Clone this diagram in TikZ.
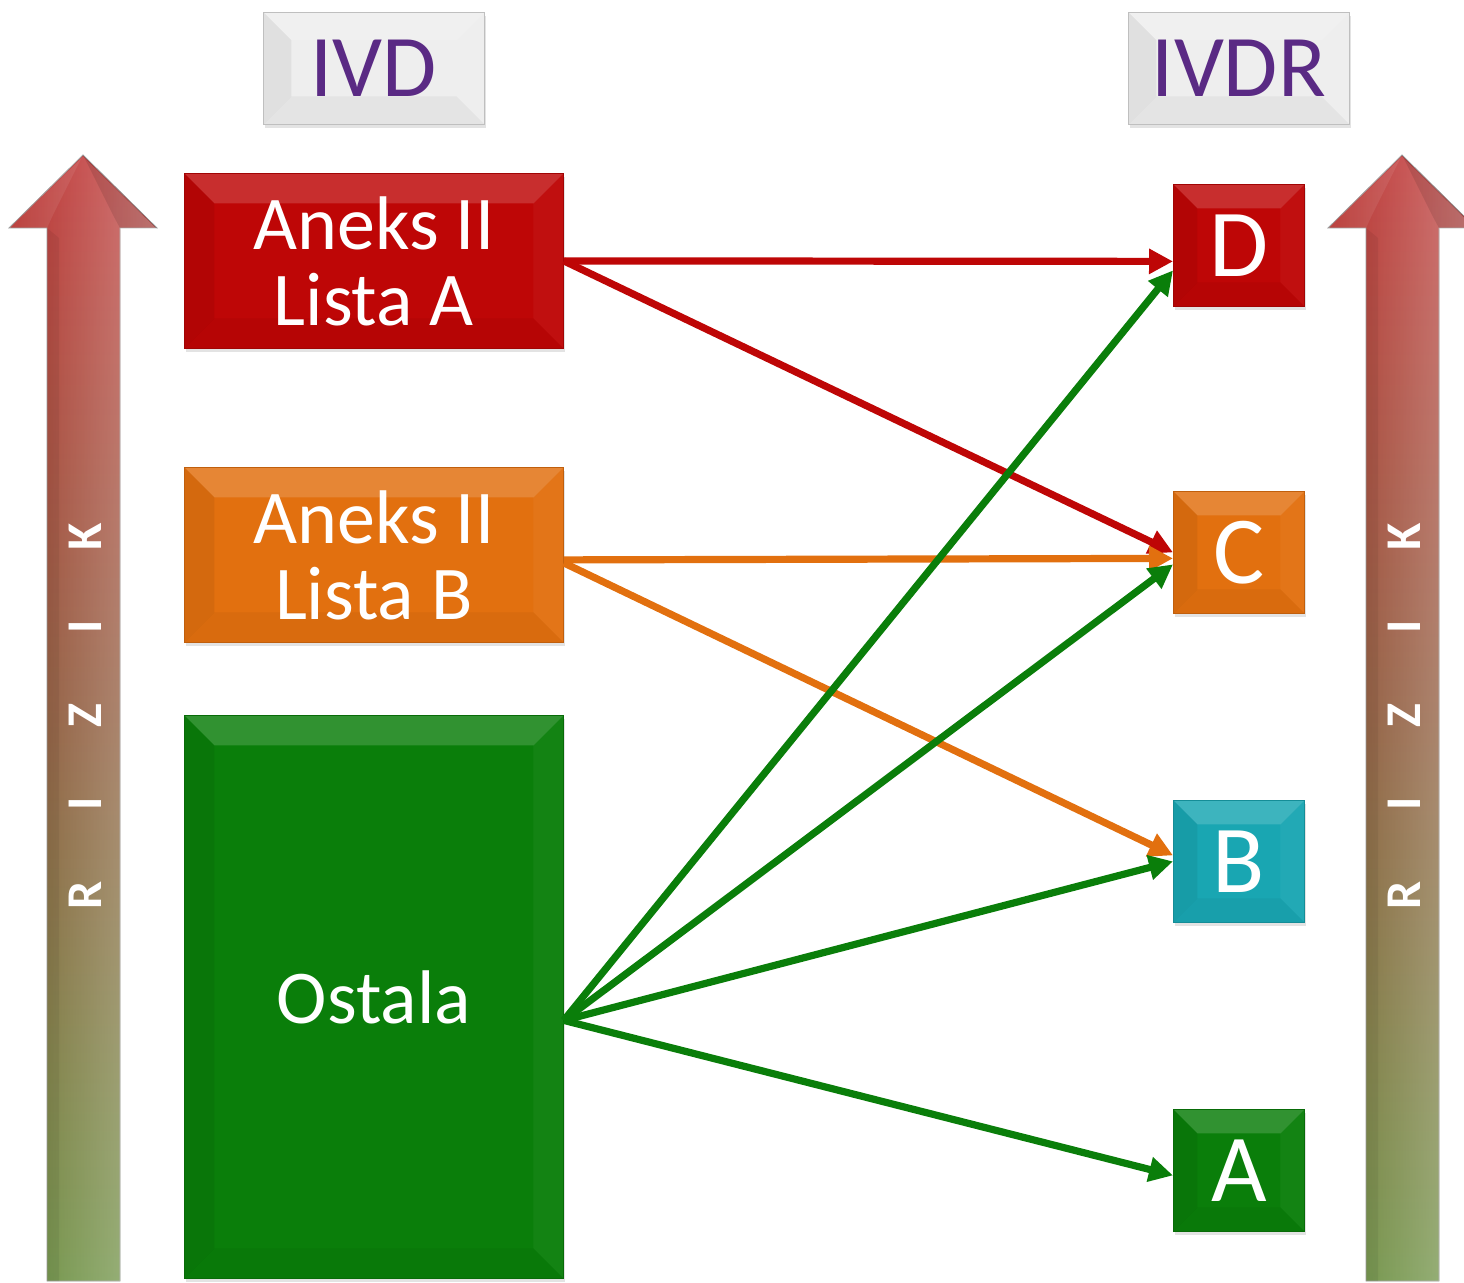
\documentclass[tikz,border=0pt]{standalone}
\usepackage{fontspec}
\setmainfont{Carlito}
\usetikzlibrary{arrows.meta,shadows,fadings}
\definecolor{cred}{HTML}{BE0606}
\definecolor{corange}{HTML}{E2700F}
\definecolor{cgreen}{HTML}{0A7E0A}
\definecolor{cteal}{HTML}{19A6B2}
\definecolor{cgrey}{HTML}{EEEEEE}
\definecolor{cpurple}{HTML}{5A2A84}
\definecolor{rtop}{HTML}{BC2E2E}
\definecolor{rmid}{HTML}{8A5434}
\definecolor{rbot}{HTML}{6A8E3E}
\tikzfading[name=fadeside, left color=transparent!100, right color=transparent!62]
\tikzset{
  bevel/.style={path picture={
    \fill[white,opacity=0.16] (path picture bounding box.north west) -- (path picture bounding box.north east)
      -- ([shift={(-#1,-#1)}]path picture bounding box.north east) -- ([shift={(#1,-#1)}]path picture bounding box.north west) -- cycle;
    \fill[black,opacity=0.06] (path picture bounding box.north west) -- (path picture bounding box.south west)
      -- ([shift={(#1,#1)}]path picture bounding box.south west) -- ([shift={(#1,-#1)}]path picture bounding box.north west) -- cycle;
    \fill[white,opacity=0.04] (path picture bounding box.north east) -- (path picture bounding box.south east)
      -- ([shift={(-#1,#1)}]path picture bounding box.south east) -- ([shift={(-#1,-#1)}]path picture bounding box.north east) -- cycle;
    \fill[black,opacity=0.04] (path picture bounding box.south west) -- (path picture bounding box.south east)
      -- ([shift={(-#1,#1)}]path picture bounding box.south east) -- ([shift={(#1,#1)}]path picture bounding box.south west) -- cycle;
  }},
  box/.style={draw=#1!85!black, line width=0.4pt, fill=#1, inner sep=0pt, anchor=north west,
    text=white, align=center, drop shadow={opacity=0.22, shadow xshift=0.8pt, shadow yshift=-2pt}},
  bigbox/.style={box=#1, minimum width=189.5pt, minimum height=87.5pt, bevel=15pt, font=\fontsize{38}{38}\selectfont},
  smallbox/.style={box=#1, minimum width=65.5pt, minimum height=61pt, bevel=12pt, font=\fontsize{48}{50}\selectfont},
  headbox/.style={box=cgrey, draw=black!25, text=cpurple, minimum width=110.5pt, minimum height=56pt, bevel=14pt,
    font=\fontsize{44}{44}\selectfont},
  conn/.style={line width=3.6pt, -{Triangle[length=12pt,width=12pt]}},
  riskarrow/.style={draw=black!40, line width=0.4pt, top color=rtop, bottom color=rbot, middle color=rmid},
  risktext/.style={rotate=90, text=white, font=\fontsize{25}{25}\selectfont\bfseries}
}
\newcommand{\rizik}{R\hskip35pt I\hskip35pt Z\hskip35pt I\hskip35pt K}
\begin{document}
\begin{tikzpicture}[x=0.5pt,y=-0.5pt]
\useasboundingbox (0,0) rectangle (1464,1283);
% risk arrows
\foreach \cx in {83,1402}{
  \path[riskarrow] (\cx-36,1281) -- (\cx-36,228) -- (\cx-74,228) -- (\cx,155) -- (\cx+74,228) -- (\cx+37,228) -- (\cx+37,1281) -- cycle;
  \fill[white, path fading=fadeside] (\cx-36,1281) -- (\cx-36,228) -- (\cx-74,228) -- (\cx,155) -- (\cx+74,228) -- (\cx+37,228) -- (\cx+37,1281) -- cycle;
  \fill[black,opacity=0.06] (\cx-36,1281) -- (\cx-36,228) -- (\cx-24,238) -- (\cx-24,1281) -- cycle;
  \fill[black,opacity=0.10] (\cx,155) -- (\cx+74,228) -- (\cx+37,228) -- (\cx+30,215) -- cycle;
  \fill[white,opacity=0.08] (\cx,155) -- (\cx-74,228) -- (\cx-36,228) -- (\cx-30,215) -- cycle;
}
\node[risktext] (rl) at (85,716) {\rizik};
\node[risktext] (rr) at (1404,716) {\rizik};
% headers
\node[headbox] (ivd) at (263,12) {IVD};
\node[headbox] (ivdr) at (1128,12) {IVDR};
% left boxes
\node[bigbox=cred] (la) at (184,173) {Aneks II\\Lista A};
\node[bigbox=corange] (lb) at (184,467) {Aneks II\\Lista B};
\node[box=cgreen, minimum width=189.5pt, minimum height=281.5pt, bevel=15pt, font=\fontsize{38}{38}\selectfont] (os) at (184,715) {Ostala};
% right boxes
\node[smallbox=cred] (D) at (1173,184) {D};
\node[smallbox=corange] (C) at (1173,491) {C};
\node[smallbox=cteal] (B) at (1173,800) {B};
\node[smallbox=cgreen] (A) at (1173,1109) {A};
% connectors
\draw[conn, cred] (la.east) -- ([yshift=-8pt]D.west);
\draw[conn, cred] (la.east) -- (C.west);
\draw[conn, corange] ([yshift=-2.5pt]lb.east) -- ([yshift=-3pt]C.west);
\draw[conn, corange] ([yshift=-4pt]lb.east) -- ([yshift=3pt]B.west);
\draw[conn, cgreen] ([yshift=-11.75pt]os.east) -- ([yshift=-12.5pt]D.west);
\draw[conn, cgreen] ([yshift=-11.75pt]os.east) -- ([yshift=-6pt]C.west);
\draw[conn, cgreen] ([yshift=-11.75pt]os.east) -- (B.west);
\draw[conn, cgreen] ([yshift=-11.75pt]os.east) -- ([yshift=-2.5pt]A.west);
\end{tikzpicture}
\end{document}
